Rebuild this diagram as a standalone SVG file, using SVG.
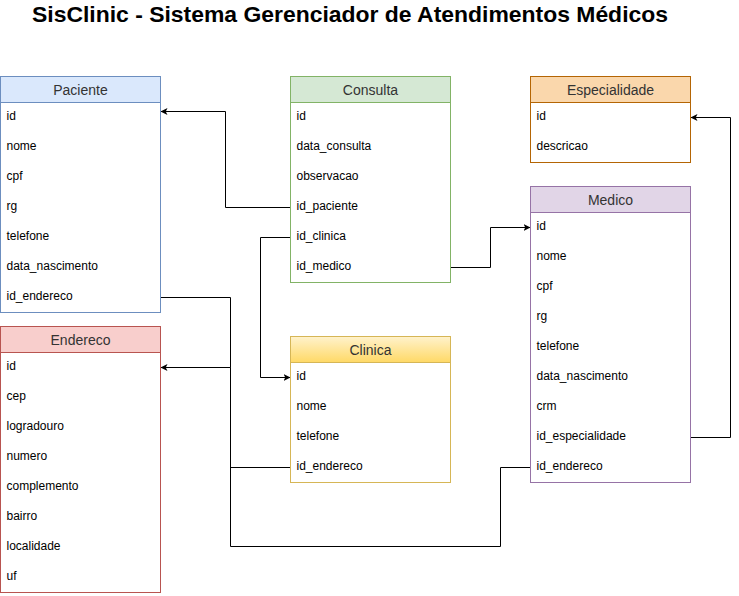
<svg xmlns="http://www.w3.org/2000/svg" width="739" height="596" viewBox="0 0 739 596">
<style>
.t{font-family:"Liberation Sans",Arial,sans-serif;font-size:12px;fill:#000}
.h{font-family:"Liberation Sans",Arial,sans-serif;font-size:14px;fill:#333;text-anchor:middle}
.title{font-family:"Liberation Sans",Arial,sans-serif;font-size:22px;font-weight:bold;fill:#000;text-anchor:middle}
.c{fill:none;stroke:#000;stroke-width:1}
</style>
<defs>
<marker id="arr" viewBox="0 0 10 10" refX="10" refY="5" markerWidth="7" markerHeight="7" markerUnits="userSpaceOnUse" orient="auto">
<path d="M0,0 L10,5 L0,10 L2.5,5 Z" fill="#000"/>
</marker>
<linearGradient id="gY" x1="0" y1="0" x2="0" y2="1">
<stop offset="0" stop-color="#fff2cc"/>
<stop offset="1" stop-color="#ffd966"/>
</linearGradient>
</defs>
<rect width="739" height="596" fill="#fff"/>
<text class="title" x="350" y="22" textLength="636" lengthAdjust="spacingAndGlyphs">SisClinic - Sistema Gerenciador de Atendimentos Médicos</text>
<g transform="translate(0.5,0.5)">
<g id="connectors">
<path class="c" d="M290,207 H225 V111 H160" marker-end="url(#arr)"/>
<path class="c" d="M290,237 H260 V377 H290" marker-end="url(#arr)"/>
<path class="c" d="M450,267 H490 V227 H530" marker-end="url(#arr)"/>
<path class="c" d="M690,437 H730 V117 H690" marker-end="url(#arr)"/>
<path class="c" d="M160,297 H230 V367 H160" marker-end="url(#arr)"/>
<path class="c" d="M290,467 H230 V367"/>
<path class="c" d="M530,467 H500 V546 H230 V367"/>
</g>
<g id="paciente">
<rect x="0" y="76" width="160" height="236" fill="#fff" stroke="#6c8ebf"/>
<rect x="0" y="76" width="160" height="26" fill="#dae8fc" stroke="#6c8ebf"/>
<text class="h" x="80" y="94">Paciente</text>
<text class="t" x="6" y="119">id</text>
<text class="t" x="6" y="149">nome</text>
<text class="t" x="6" y="179">cpf</text>
<text class="t" x="6" y="209">rg</text>
<text class="t" x="6" y="239">telefone</text>
<text class="t" x="6" y="269">data_nascimento</text>
<text class="t" x="6" y="299">id_endereco</text>
</g>
<g id="consulta">
<rect x="290" y="76" width="160" height="206" fill="#fff" stroke="#82b366"/>
<rect x="290" y="76" width="160" height="26" fill="#d5e8d4" stroke="#82b366"/>
<text class="h" x="370" y="94">Consulta</text>
<text class="t" x="296" y="119">id</text>
<text class="t" x="296" y="149">data_consulta</text>
<text class="t" x="296" y="179">observacao</text>
<text class="t" x="296" y="209">id_paciente</text>
<text class="t" x="296" y="239">id_clinica</text>
<text class="t" x="296" y="269">id_medico</text>
</g>
<g id="especialidade">
<rect x="530" y="76" width="160" height="86" fill="#fff" stroke="#b46504"/>
<rect x="530" y="76" width="160" height="26" fill="#fad7ac" stroke="#b46504"/>
<text class="h" x="610" y="94">Especialidade</text>
<text class="t" x="536" y="119">id</text>
<text class="t" x="536" y="149">descricao</text>
</g>
<g id="medico">
<rect x="530" y="186" width="160" height="296" fill="#fff" stroke="#9673a6"/>
<rect x="530" y="186" width="160" height="26" fill="#e1d5e7" stroke="#9673a6"/>
<text class="h" x="610" y="204">Medico</text>
<text class="t" x="536" y="229">id</text>
<text class="t" x="536" y="259">nome</text>
<text class="t" x="536" y="289">cpf</text>
<text class="t" x="536" y="319">rg</text>
<text class="t" x="536" y="349">telefone</text>
<text class="t" x="536" y="379">data_nascimento</text>
<text class="t" x="536" y="409">crm</text>
<text class="t" x="536" y="439">id_especialidade</text>
<text class="t" x="536" y="469">id_endereco</text>
</g>
<g id="endereco">
<rect x="0" y="326" width="160" height="266" fill="#fff" stroke="#b85450"/>
<rect x="0" y="326" width="160" height="26" fill="#f8cecc" stroke="#b85450"/>
<text class="h" x="80" y="344">Endereco</text>
<text class="t" x="6" y="369">id</text>
<text class="t" x="6" y="399">cep</text>
<text class="t" x="6" y="429">logradouro</text>
<text class="t" x="6" y="459">numero</text>
<text class="t" x="6" y="489">complemento</text>
<text class="t" x="6" y="519">bairro</text>
<text class="t" x="6" y="549">localidade</text>
<text class="t" x="6" y="579">uf</text>
</g>
<g id="clinica">
<rect x="290" y="336" width="160" height="146" fill="#fff" stroke="#d6b656"/>
<rect x="290" y="336" width="160" height="26" fill="url(#gY)" stroke="#d6b656"/>
<text class="h" x="370" y="354">Clinica</text>
<text class="t" x="296" y="379">id</text>
<text class="t" x="296" y="409">nome</text>
<text class="t" x="296" y="439">telefone</text>
<text class="t" x="296" y="469">id_endereco</text>
</g>
</g>
</svg>
